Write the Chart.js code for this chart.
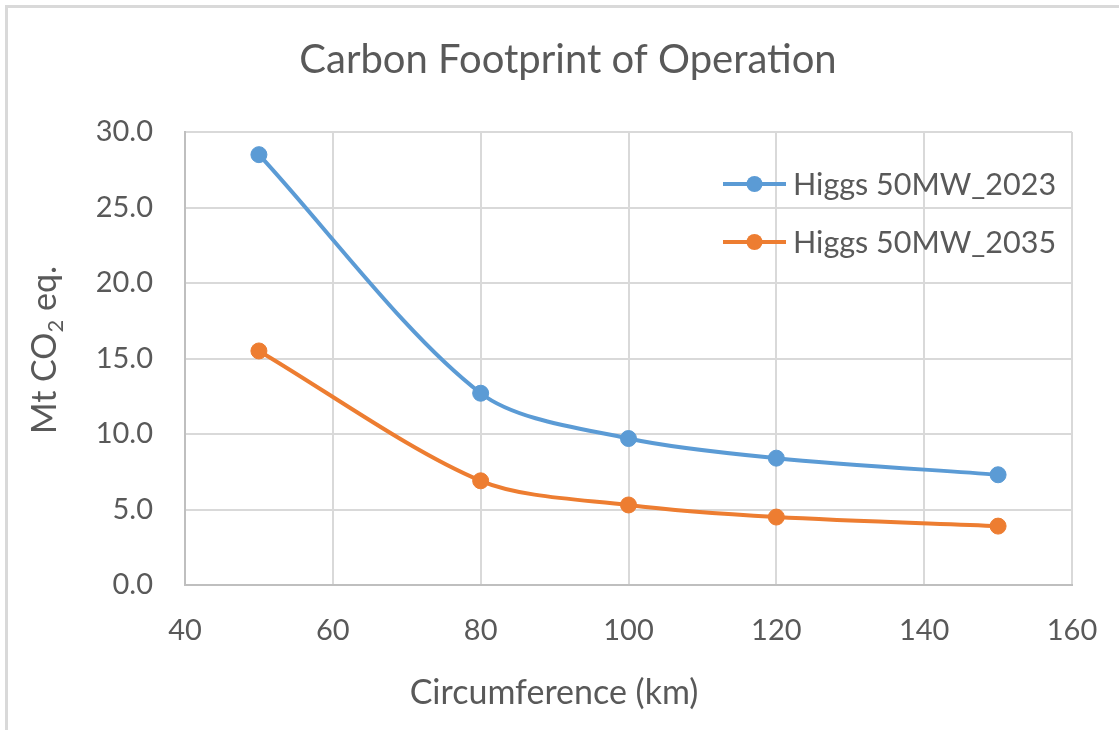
<!DOCTYPE html>
<html>
<head>
<meta charset="utf-8">
<title>Carbon Footprint of Operation</title>
<script src="https://cdn.jsdelivr.net/npm/chart.js@4/dist/chart.umd.min.js"></script>
<style>
  html, body { margin: 0; padding: 0; background: #fff; }
  #wrap { position: relative; width: 1119px; height: 730px; }
</style>
</head>
<body>
<div id="wrap"><canvas id="chart" width="1119" height="730"></canvas></div>
<script>
// ── data ─────────────────────────────────────
const circumferenceKm = [50, 80, 100, 120, 150];
const higgs50MW2023 = [28.5, 12.7, 9.7, 8.4, 7.3];
const higgs50MW2035 = [15.5, 6.9, 5.3, 4.5, 3.9];
const seriesLabels = ['Higgs 50MW_2023', 'Higgs 50MW_2035'];
const xTickValues = [40, 60, 80, 100, 120, 140, 160];
const yTickValues = [0, 5, 10, 15, 20, 25, 30];

const FONT = 'Lato, "Open Sans", sans-serif';
const TEXT = '#595959';
const GRID = '#d9d9d9';
const COLORS = ['#5b9bd5', '#ed7d31'];

// Excel-ish chart frame + white background
const framePlugin = {
  id: 'frame',
  beforeDraw(chart) {
    const { ctx, width, height } = chart;
    ctx.save();
    ctx.fillStyle = '#fff';
    ctx.fillRect(0, 0, width, height);
    ctx.strokeStyle = '#d9d9d9';
    ctx.lineWidth = 3;
    ctx.beginPath();
    ctx.moveTo(6.5, height);
    ctx.lineTo(6.5, 6.5);
    ctx.lineTo(width, 6.5);
    ctx.stroke();
    ctx.restore();
  },
};

// main title and axis titles (y title needs a subscript 2)
const titlesPlugin = {
  id: 'titles',
  afterDraw(chart) {
    const { ctx } = chart;
    ctx.save();
    ctx.fillStyle = TEXT;

    ctx.font = `40px ${FONT}`;
    ctx.textAlign = 'center';
    ctx.textBaseline = 'alphabetic';
    ctx.fillText('Carbon Footprint of Operation', 568, 73);

    ctx.font = `34px ${FONT}`;
    ctx.fillText('Circumference (km)', 554, 704);

    // rotated y title: "Mt CO" + subscript "2" + " eq."
    const big = `34px ${FONT}`, small = `22px ${FONT}`;
    ctx.font = big;
    const w1 = ctx.measureText('Mt CO').width;
    const w3 = ctx.measureText(' eq.').width;
    ctx.font = small;
    const w2 = ctx.measureText('2').width;
    const total = w1 + w2 + w3;
    ctx.translate(56, 350);
    ctx.rotate(-Math.PI / 2);
    ctx.textAlign = 'left';
    let x = -total / 2;
    ctx.font = big;
    ctx.fillText('Mt CO', x, 0);
    x += w1;
    ctx.font = small;
    ctx.fillText('2', x, 7);
    x += w2;
    ctx.font = big;
    ctx.fillText(' eq.', x, 0);
    ctx.restore();
  },
};

// legend drawn inside the plot, top right
const legendPlugin = {
  id: 'insideLegend',
  afterDraw(chart) {
    const { ctx } = chart;
    const rows = [184, 242];
    ctx.save();
    chart.data.datasets.forEach((ds, i) => {
      const y = rows[i];
      ctx.strokeStyle = ds.borderColor;
      ctx.lineWidth = 4;
      ctx.beginPath();
      ctx.moveTo(723, y);
      ctx.lineTo(786, y);
      ctx.stroke();
      ctx.fillStyle = ds.backgroundColor;
      ctx.beginPath();
      ctx.arc(754.5, y, 8, 0, Math.PI * 2);
      ctx.fill();
      ctx.fillStyle = TEXT;
      ctx.font = `30.5px ${FONT}`;
      ctx.textAlign = 'left';
      ctx.textBaseline = 'middle';
      ctx.fillText(ds.label, 793, y + 1);
    });
    ctx.restore();
  },
};

function makeSeries(label, values, color) {
  return {
    label,
    data: circumferenceKm.map((x, i) => ({ x, y: values[i] })),
    borderColor: color,
    backgroundColor: color,
    borderWidth: 4,
    pointRadius: 8,
    pointHoverRadius: 8,
    pointBorderWidth: 1,
    tension: 0.3,
    fill: false,
  };
}

new Chart(document.getElementById('chart'), {
  type: 'line',
  data: {
    datasets: [
      makeSeries(seriesLabels[0], higgs50MW2023, COLORS[0]),
      makeSeries(seriesLabels[1], higgs50MW2035, COLORS[1]),
    ],
  },
  options: {
    responsive: false,
    animation: false,
    devicePixelRatio: 1,
    layout: { padding: { top: 132, right: 47, bottom: 0, left: 0 } },
    scales: {
      x: {
        type: 'linear',
        min: xTickValues[0],
        max: xTickValues[xTickValues.length - 1],
        afterBuildTicks: s => { s.ticks = xTickValues.map(value => ({ value })); },
        // fixed band under the plot; end labels may overhang into the layout padding
        afterFit: s => { s.height = 145; s.paddingLeft = 0; s.paddingRight = 0; },
        grid: { color: GRID, lineWidth: 2, drawTicks: false },
        border: { color: '#bfbfbf', width: 2 },
        ticks: { color: TEXT, font: { family: FONT, size: 29 }, padding: 28, maxRotation: 0 },
      },
      y: {
        min: yTickValues[0],
        max: yTickValues[yTickValues.length - 1],
        afterBuildTicks: s => { s.ticks = yTickValues.map(value => ({ value })); },
        afterFit: s => { s.width = 185; s.paddingTop = 0; s.paddingBottom = 0; },
        grid: { color: GRID, lineWidth: 2, drawTicks: false },
        border: { color: '#bfbfbf', width: 2 },
        ticks: {
          color: TEXT,
          font: { family: FONT, size: 29 },
          padding: 32,
          callback: v => v.toFixed(1),
        },
      },
    },
    plugins: {
      legend: { display: false },
      title: { display: false },
      tooltip: { enabled: false },
    },
  },
  plugins: [framePlugin, titlesPlugin, legendPlugin],
});
</script>
</body>
</html>
